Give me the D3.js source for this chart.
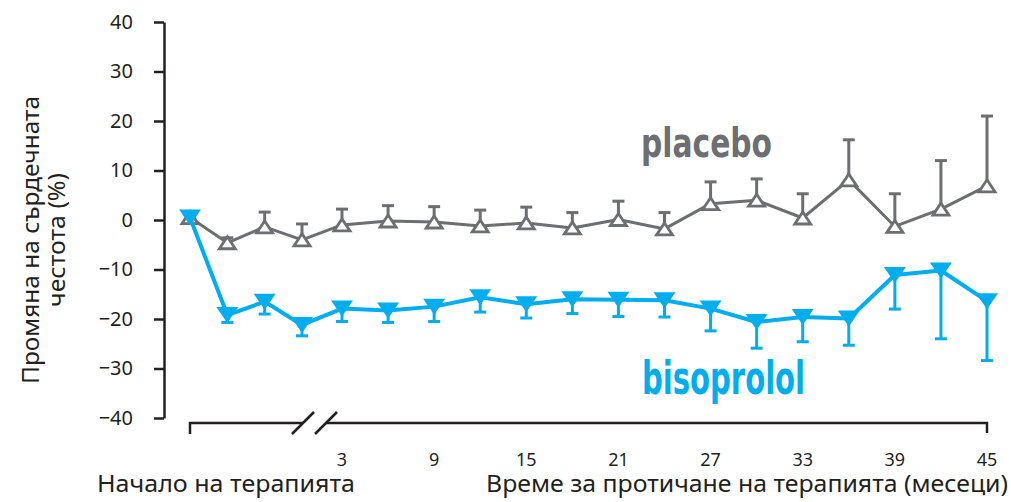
<!DOCTYPE html>
<html>
<head>
<meta charset="utf-8">
<script src="https://cdn.jsdelivr.net/npm/d3@7"></script>
<style>
    body { margin: 0; background: #fff; }
    text { font-family: "Noto Sans", "Open Sans", sans-serif; fill: #231f20; }
    .series-label { font-family: "Liberation Sans Narrow", "DejaVu Sans Condensed", sans-serif; font-weight: bold; }
</style>
</head>
<body>
<div id="chart"></div>
<script>
// visit index: 0 = start of therapy, 1-3 = titration visits, 4.. = every 3 months
const visits = d3.range(19);
const visitMonths = [null, null, null, null, 3, 6, 9, 12, 15, 18, 21, 24, 27, 30, 33, 36, 39, 42, 45];
const tickMonths = [3, 9, 15, 21, 27, 33, 39, 45];
const yTicks = [-40, -30, -20, -10, 0, 10, 20, 30, 40];

// change in heart rate (%), mean and standard error
const placebo = [0.5, -4.6, -1.4, -4.0, -1.0, -0.2, -0.4, -1.2, -0.6, -1.6, 0.1, -1.8, 3.3, 4.0, 0.4, 8.1, -1.3, 2.2, 6.9];
const placeboSE = [0, 1.0, 3.0, 3.2, 3.2, 3.1, 3.1, 3.2, 3.2, 3.1, 3.7, 3.3, 4.4, 4.3, 4.9, 8.1, 6.6, 9.8, 14.1];
const bisoprolol = [0.5, -19.2, -16.5, -21.2, -17.9, -18.3, -17.5, -15.6, -17.0, -16.0, -16.1, -16.2, -17.9, -20.6, -19.6, -19.9, -11.1, -10.2, -16.4];
const bisoprololSE = [0, 1.5, 2.5, 2.2, 2.6, 2.4, 3.0, 3.0, 2.8, 2.9, 3.4, 3.4, 4.5, 5.3, 5.0, 5.4, 6.9, 13.8, 12.0];

const width = 1011;
const height = 502;
const gray = "#6d6e71";
const blue = "#00aeef";
const ink = "#231f20";

const svg = d3.select("#chart")
    .append("svg")
    .attr("width", width)
    .attr("height", height);

// early visits are squeezed before the axis break
const x = d3.scaleLinear()
    .domain([0, 3, 4, 18])
    .range([190, 302, 342, 987]);

const y = d3.scaleLinear()
    .domain([-40, 40])
    .range([418, 22]);

const monthToVisit = m => visitMonths.indexOf(m);

// y axis
const yAxis = svg.append("g")
    .attr("transform", "translate(164,0)")
    .call(d3.axisLeft(y).tickValues(yTicks).tickSize(10).tickSizeOuter(0).tickPadding(21));
yAxis.selectAll("path, line").attr("stroke", ink).attr("stroke-width", 2.5);
yAxis.selectAll("text")
    .style("font-size", "20px")
    .attr("fill", ink);

// y title
svg.append("text")
    .attr("transform", `translate(39,240) rotate(-90)`)
    .attr("text-anchor", "middle")
    .attr("textLength", 288)
    .attr("lengthAdjust", "spacingAndGlyphs")
    .style("font-size", "23px")
    .text("Промяна на сърдечната");
svg.append("text")
    .attr("transform", `translate(65,240) rotate(-90)`)
    .attr("text-anchor", "middle")
    .attr("textLength", 134)
    .attr("lengthAdjust", "spacingAndGlyphs")
    .style("font-size", "23px")
    .text("честота (%)");

// x axis with break
const axisY = 423;
const breakL = x(3) + 1;
const breakR = breakL + 23;
const xAxis = svg.append("g")
    .attr("fill", "none")
    .attr("stroke", ink)
    .attr("stroke-width", 2.5);
xAxis.append("path")
    .attr("d", `M${x(0)},${axisY + 11}V${axisY}H${breakL}`);
xAxis.append("path")
    .attr("d", `M${breakR},${axisY}H${x(18)}V${axisY + 10}`);
[breakL, breakR].forEach(cx => {
    xAxis.append("line")
        .attr("x1", cx - 11).attr("y1", axisY + 11)
        .attr("x2", cx + 11).attr("y2", axisY - 11);
});

svg.append("g")
    .selectAll("text")
    .data(tickMonths)
    .enter().append("text")
    .attr("x", d => x(monthToVisit(d)))
    .attr("y", 466)
    .attr("text-anchor", "middle")
    .style("font-size", "18px")
    .text(d => d);

svg.append("text")
    .attr("x", 97)
    .attr("y", 492)
    .attr("textLength", 258)
    .attr("lengthAdjust", "spacingAndGlyphs")
    .style("font-size", "23px")
    .text("Начало на терапията");
svg.append("text")
    .attr("x", 486)
    .attr("y", 492)
    .attr("textLength", 522)
    .attr("lengthAdjust", "spacingAndGlyphs")
    .style("font-size", "23px")
    .text("Време за протичане на терапията (месеци)");

// series
const line = d3.line()
    .x((d, i) => x(i))
    .y(d => y(d));

function drawSeries(values, se, color, lineWidth, dir) {
    const g = svg.append("g");

    g.append("path")
        .datum(values)
        .attr("d", line)
        .attr("fill", "none")
        .attr("stroke", color)
        .attr("stroke-width", lineWidth)
        .attr("stroke-linejoin", "round");

    const bars = g.selectAll(".err")
        .data(visits.filter(i => se[i] > 0))
        .enter().append("g")
        .attr("class", "err")
        .attr("stroke", color)
        .attr("stroke-width", 3);
    bars.append("line")
        .attr("x1", i => x(i)).attr("x2", i => x(i))
        .attr("y1", i => y(values[i]))
        .attr("y2", i => y(values[i] + dir * se[i]));
    bars.append("line")
        .attr("x1", i => x(i) - 6).attr("x2", i => x(i) + 6)
        .attr("y1", i => y(values[i] + dir * se[i]))
        .attr("y2", i => y(values[i] + dir * se[i]));

    const tri = dir > 0 ? "M0,-6L8,6L-8,6Z" : "M-11,-8L11,-8L0,8Z";
    g.selectAll(".marker")
        .data(values)
        .enter().append("path")
        .attr("class", "marker")
        .attr("transform", (d, i) => `translate(${x(i)},${y(d)})`)
        .attr("d", tri)
        .attr("fill", dir > 0 ? "#fff" : color)
        .attr("stroke", dir > 0 ? color : "none")
        .attr("stroke-width", 2.8)
        .attr("stroke-linejoin", "miter");
}

drawSeries(placebo, placeboSE, gray, 3, 1);
drawSeries(bisoprolol, bisoprololSE, blue, 4, -1);

svg.append("text")
    .attr("class", "series-label")
    .attr("x", 641)
    .attr("y", 157)
    .attr("textLength", 131)
    .attr("lengthAdjust", "spacingAndGlyphs")
    .style("font-size", "40px")
    .style("fill", gray)
    .text("placebo");

svg.append("text")
    .attr("class", "series-label")
    .attr("transform", "translate(642,394) scale(1,1.1)")
    .attr("textLength", 163)
    .attr("lengthAdjust", "spacingAndGlyphs")
    .style("font-size", "42px")
    .style("fill", blue)
    .text("bisoprolol");
</script>
</body>
</html>
